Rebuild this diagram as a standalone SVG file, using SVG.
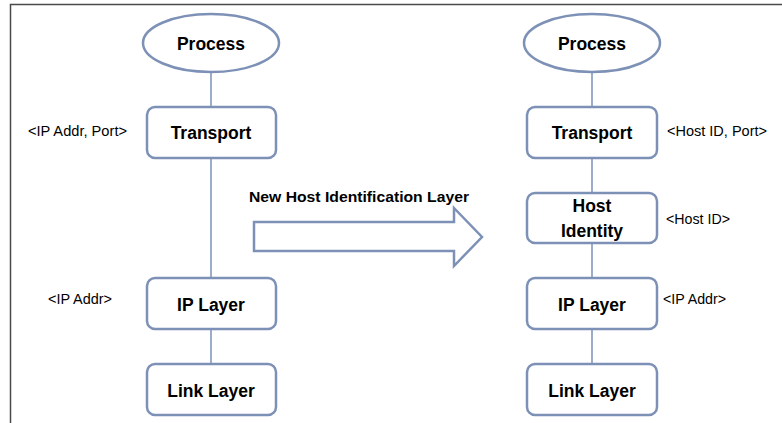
<svg xmlns="http://www.w3.org/2000/svg" width="782" height="423" viewBox="0 0 782 423">
<style>
.node{fill:#ffffff;stroke:#7d91b6;stroke-width:2.5}
.conn{stroke:#7d91b6;stroke-width:1.5;fill:none}
.lbl{font-family:"Liberation Sans",Arial,sans-serif;font-weight:bold;font-size:17.5px;fill:#000;text-anchor:middle}
.note{font-family:"Liberation Sans",Arial,sans-serif;font-size:14px;fill:#000}
.title{font-family:"Liberation Sans",Arial,sans-serif;font-weight:bold;font-size:15px;fill:#000}
</style>
<rect width="782" height="423" fill="#ffffff"/>
<path d="M10.5 423 V4.5 H782" fill="none" stroke="#4a4a4a" stroke-width="1.5"/>
<g id="connectors">
<line class="conn" x1="211" y1="72" x2="211" y2="107"/>
<line class="conn" x1="211" y1="158" x2="211" y2="278"/>
<line class="conn" x1="211" y1="329" x2="211" y2="364"/>
<line class="conn" x1="592" y1="72" x2="592" y2="107"/>
<line class="conn" x1="592" y1="158" x2="592" y2="193"/>
<line class="conn" x1="592" y1="243" x2="592" y2="278"/>
<line class="conn" x1="592" y1="329" x2="592" y2="364"/>
</g>
<g id="left-process"><ellipse class="node" cx="211" cy="43" rx="68" ry="29"/><text class="lbl" x="211" y="50">Process</text></g>
<g id="left-transport"><rect class="node" x="147" y="107" width="129" height="51" rx="8"/><text class="lbl" x="211" y="139">Transport</text></g>
<g id="left-ip"><rect class="node" x="147" y="278" width="129" height="51" rx="8"/><text class="lbl" x="211" y="311">IP Layer</text></g>
<g id="left-link"><rect class="node" x="147" y="364" width="129" height="51" rx="8"/><text class="lbl" x="211" y="397">Link Layer</text></g>
<g id="right-process"><ellipse class="node" cx="592" cy="43" rx="68" ry="29"/><text class="lbl" x="592" y="50">Process</text></g>
<g id="right-transport"><rect class="node" x="527" y="107" width="130" height="51" rx="8"/><text class="lbl" x="592" y="139">Transport</text></g>
<g id="right-hostid"><rect class="node" x="527" y="193" width="130" height="50" rx="8"/><text class="lbl" x="592" y="212">Host</text><text class="lbl" x="592" y="237">Identity</text></g>
<g id="right-ip"><rect class="node" x="527" y="278" width="130" height="51" rx="8"/><text class="lbl" x="592" y="311">IP Layer</text></g>
<g id="right-link"><rect class="node" x="527" y="364" width="130" height="51" rx="8"/><text class="lbl" x="592" y="397">Link Layer</text></g>
<g id="notes">
<text class="note" x="28" y="136" textLength="99" lengthAdjust="spacingAndGlyphs">&lt;IP Addr, Port&gt;</text>
<text class="note" x="48" y="304" textLength="64" lengthAdjust="spacingAndGlyphs">&lt;IP Addr&gt;</text>
<text class="note" x="667" y="136" textLength="100" lengthAdjust="spacingAndGlyphs">&lt;Host ID, Port&gt;</text>
<text class="note" x="666" y="224" textLength="64" lengthAdjust="spacingAndGlyphs">&lt;Host ID&gt;</text>
<text class="note" x="663" y="304" textLength="63" lengthAdjust="spacingAndGlyphs">&lt;IP Addr&gt;</text>
</g>
<g id="big-arrow">
<polygon class="node" points="254,222 454,222 454,208 482,237 454,266 454,251 254,251"/>
<text class="title" x="249" y="202" textLength="220" lengthAdjust="spacingAndGlyphs">New Host Identification Layer</text>
</g>
</svg>
